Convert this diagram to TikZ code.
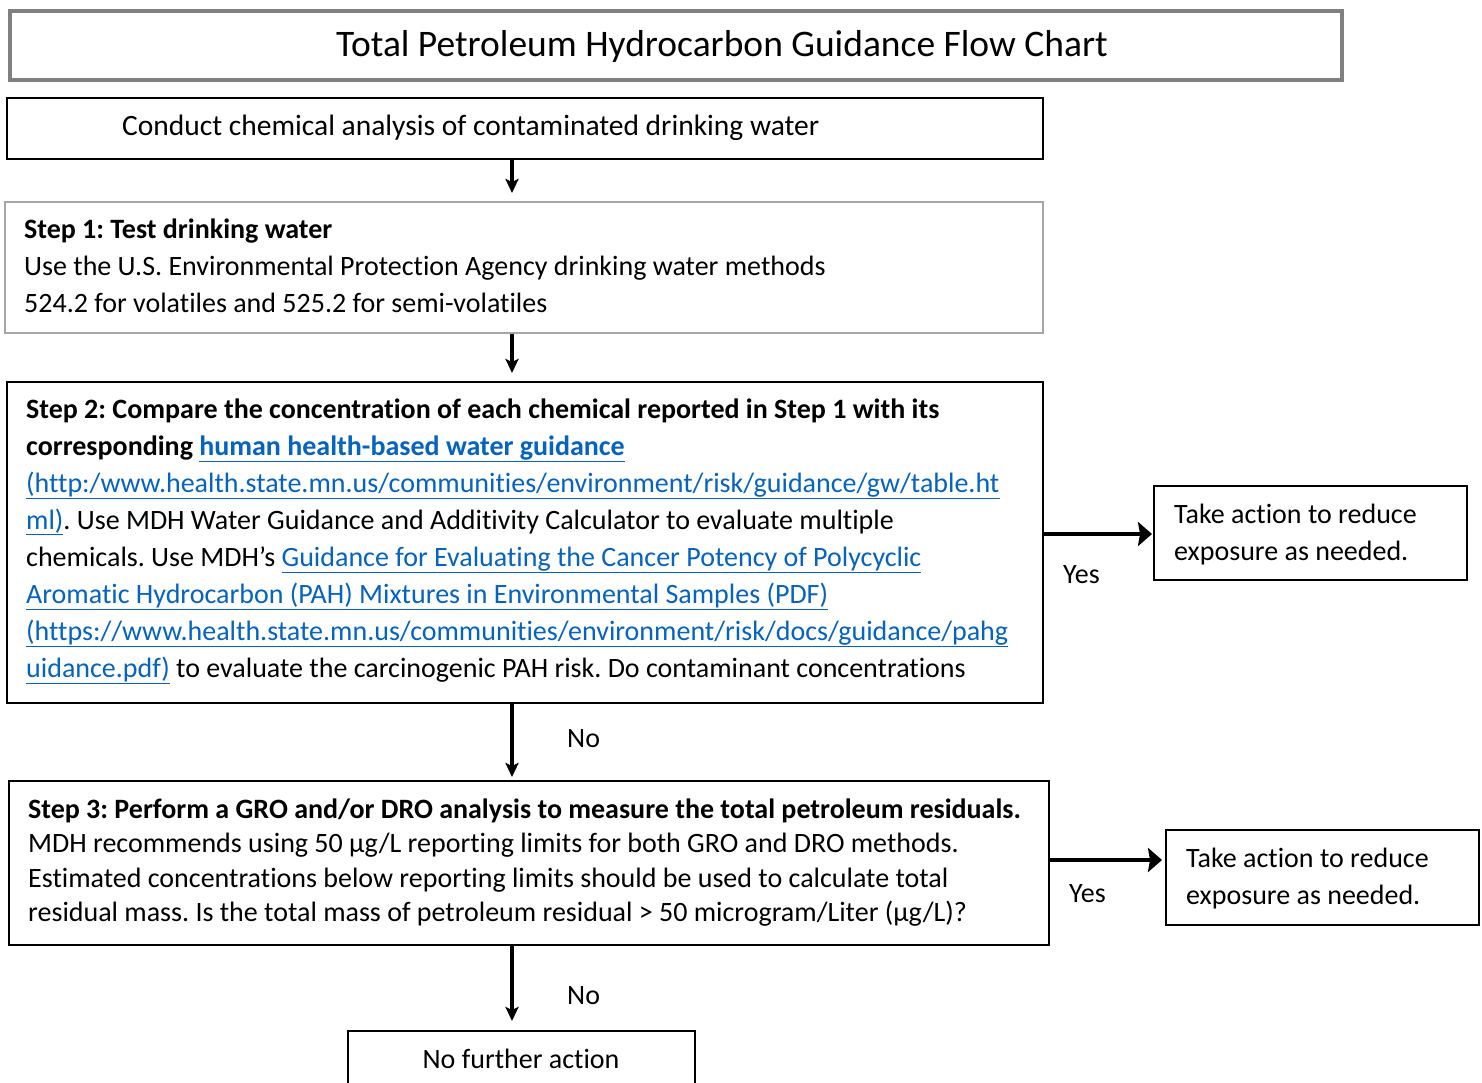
\documentclass[tikz,border=0pt]{standalone}
\usepackage{fontspec}
\setmainfont{Carlito}[Ligatures={NoCommon}]
\usetikzlibrary{arrows.meta}
\definecolor{linkblue}{HTML}{0563C1}
\definecolor{titlegray}{HTML}{808080}
\definecolor{boxgray}{HTML}{A6A6A6}
\newcommand\lk[1]{\textcolor{linkblue}{\underline{\vphantom{(}#1}}}
\newcommand\fsz[2]{\fontsize{#1pt}{#2pt}\selectfont}
\frenchspacing
\begin{document}
\begin{tikzpicture}[x=1pt,y=-1pt,
  box/.style={draw=black,line width=2pt,inner sep=0pt,anchor=north west},
  titlebox/.style={draw=titlegray,line width=4pt,inner sep=0pt,anchor=north west},
  graybox/.style={draw=boxgray,line width=1.8pt,inner sep=0pt,anchor=north west},
  body/.style={inner sep=0pt,align=left,anchor=north west,font=\fsz{28}{37}},
  one/.style={inner sep=0pt,anchor=base west,font=\fsz{28}{37}},
  downarr/.style={line width=3.2pt,-{Stealth[length=14pt,width=13pt,inset=3pt]}},
  rightarr/.style={line width=4.8pt,-{Stealth[length=14pt,width=24pt,inset=2pt]}}]
\useasboundingbox (0,0) rectangle (1482,1082);
\fill[white] (0,0) rectangle (1482,1082);
\coordinate (cx) at (512,0);
% title
\node[titlebox,minimum width=1332pt,minimum height=69pt] (title) at (8,9) {};
\node[inner sep=0pt,anchor=base,font=\fsz{37.5}{44}] (titletext) at (722,56) {Total Petroleum Hydrocarbon Guidance Flow Chart};
% box A
\node[box,minimum width=1036pt,minimum height=61pt] (a) at (6,97) {};
\node[one,font=\fsz{29.5}{37}] (atext) at (122,135) {Conduct chemical analysis of contaminated drinking water};
% step 1
\node[graybox,minimum width=1038pt,minimum height=131pt] (s1) at (4,201) {};
\node[body] (s1text) at (24,218.5) {\textbf{Step 1: Test drinking water}\\
Use the U.S. Environmental Protection Agency drinking water methods\\
524.2 for volatiles and 525.2 for semi-volatiles};
% step 2
\node[box,minimum width=1036pt,minimum height=321pt] (s2) at (6,381) {};
\node[body] (s2text) at (26,398.5) {\textbf{Step 2: Compare the concentration of each chemical reported in Step 1 with its}\\
\textbf{corresponding \lk{human health-based water guidance}}\\
\lk{(http:/www.health.state.mn.us/communities/environment/risk/guidance/gw/table.ht}\\
\lk{ml)}. Use MDH Water Guidance and Additivity Calculator to evaluate multiple\\
chemicals. Use MDH’s \lk{Guidance for Evaluating the Cancer Potency of Polycyclic}\\
\lk{Aromatic Hydrocarbon (PAH) Mixtures in Environmental Samples (PDF)}\\
\lk{(https://www.health.state.mn.us/communities/environment/risk/docs/guidance/pahg}\\
\lk{uidance.pdf)} to evaluate the carcinogenic PAH risk. Do contaminant concentrations};
% right box 1
\node[box,minimum width=313pt,minimum height=94pt] (r1) at (1153,485) {};
\node[body] (r1text) at (1174,503.5) {Take action to reduce\\exposure as needed.};
% step 3
\node[box,minimum width=1040pt,minimum height=164pt] (s3) at (8,780) {};
\node[body,font=\fsz{28}{34.5}] (s3text) at (28,798.5) {\textbf{Step 3: Perform a GRO and/or DRO analysis to measure the total petroleum residuals.}\\
MDH recommends using 50 µg/L reporting limits for both GRO and DRO methods.\\
Estimated concentrations below reporting limits should be used to calculate total\\
residual mass. Is the total mass of petroleum residual > 50 microgram/Liter (µg/L)?};
% right box 2
\node[box,minimum width=313pt,minimum height=95pt] (r2) at (1165,829) {};
\node[body] (r2text) at (1186,847.5) {Take action to reduce\\exposure as needed.};
% bottom box
\node[box,minimum width=347pt,minimum height=80pt] (end) at (347,1030) {};
\node[inner sep=0pt,anchor=base,font=\fsz{28}{37}] (endtext) at (521,1068) {No further action};
% labels
\node[one] (yes1) at (1063,583) {Yes};
\node[one] (yes2) at (1069,902) {Yes};
\node[one] (no1) at (567,747) {No};
\node[one] (no2) at (567,1004) {No};
% connectors
\draw[downarr,shorten >=8pt] (a.south -| cx) -- (s1.north -| cx);
\draw[downarr,shorten >=8pt] (s1.south -| cx) -- (s2.north -| cx);
\draw[downarr,shorten >=3pt] (s2.south -| cx) -- (s3.north -| cx);
\draw[downarr,shorten >=9pt] (s3.south -| cx) -- (end.north -| cx);
\coordinate (y1) at (0,534);
\coordinate (y2) at (0,860);
\draw[rightarr,shorten >=1pt] (s2.east |- y1) -- (r1.west |- y1);
\draw[rightarr,shorten >=3pt] (s3.east |- y2) -- (r2.west |- y2);
\end{tikzpicture}
\end{document}
